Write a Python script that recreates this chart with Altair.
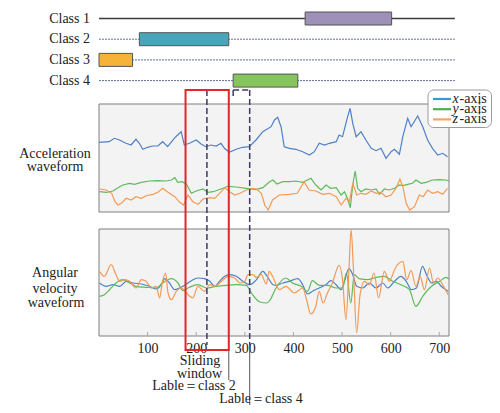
import altair as alt
import pandas as pd

# ---------------- data ----------------
CLASSES = ["Class 1", "Class 2", "Class 3", "Class 4"]
CLASS_START = [424, 83, 0, 276]
CLASS_END = [602, 267, 69, 409]
CLASS_COLORS = ["#9e90b9", "#4aa4ba", "#f5b33a", "#86c55c"]
TIMELINE_END = 732

TICKS = [100, 200, 300, 400, 500, 600, 700]
SERIES = ["x-axis", "y-axis", "z-axis"]
LINE_COLORS = ["#4f80c6", "#5dbb5a", "#f29a55"]
LEGEND_COLORS = ["#3a98d2", "#4cae50", "#f4a361"]

WINDOW = [178, 267]          # sliding window (red box)
DASH_LINE = 222              # dashed line inside the window
DASH_BOX = [276, 310]        # dashed marker of class 4 label

# acceleration waveform (time, value in panel units)
ACC_X = [(0, 69.7), (21, 70.3), (31.5, 73.7), (42, 72), (55.5, 68.7), (66, 67), (76, 72.7), (83, 68.7),
         (90, 62.7), (100, 64.7), (110, 66), (121, 66), (131, 70.3), (141, 65.3), (158, 75.3), (169, 80.3),
         (175.5, 67), (186, 68.7), (200, 72), (210, 68), (220, 65.3), (230, 67), (241, 66), (251, 68.7),
         (258, 63.7), (268, 59.7), (282, 62.7), (295.5, 64.7), (309, 65.3), (323, 72), (337, 80.3), (354, 85.3),
         (361, 92), (367.5, 94.7), (374.5, 85.3), (381, 65.3), (392, 63.7), (405, 62.7), (419, 60.3), (433, 57),
         (443, 60.3), (453, 68.7), (464, 67), (474, 68.7), (488, 70.3), (494, 77), (501, 75.3), (511.5, 95.3),
         (516.5, 103.7), (522, 88.7), (529, 75.3), (539, 80.3), (549, 72), (560, 63.7), (570, 61.3), (580, 63.7),
         (590.5, 53.7), (601, 60.3), (607.6, 62.7), (618, 57.7), (625, 75.3), (635, 93.7), (642, 85.3),
         (655.6, 96), (666, 85.3), (676, 72), (686, 63.7), (697, 57), (707, 58.7), (717, 55.3)]
ACC_Y = [(1, 20.3), (15, 19.7), (29, 21), (39, 24.3), (49, 27), (63, 28.7), (73, 27.7), (87, 29.7), (104, 31),
         (121, 31.3), (138, 31), (149, 32), (156, 34.3), (162, 29.7), (171, 30.3), (180, 27.7), (190, 18.7),
         (200, 21), (214, 23), (224, 19.7), (235, 20.3), (245, 22), (255, 23.7), (265, 25.7), (282, 25),
         (303, 23.7), (323, 22.3), (337, 24.3), (351, 30.3), (358, 32), (366, 28), (378, 30.3), (392, 30.3),
         (405, 31), (419, 29.7), (429, 32), (436, 33.7), (446, 27), (457, 22), (467, 27), (477, 23.7),
         (488, 24.3), (498, 17), (505, 20.3), (511, 13.7), (517, 4.3), (522, 27), (527, 41), (532, 23.7),
         (539, 20.3), (549, 23), (560, 22), (570, 23), (577, 17.7), (587, 23), (597, 22), (608, 23.7), (618, 27),
         (625, 26.3), (635, 27.7), (645, 28.7), (652, 32), (663, 28.7), (673, 29.7), (686, 32), (700, 32.3),
         (714, 32), (720, 31)]
ACC_Z = [(1, 23), (15, 22), (26, 18.7), (33, 10.3), (39, 7), (46, 8.7), (56, 13.7), (66, 12), (76, 15.3),
         (87, 13.7), (97, 16.3), (111, 17.7), (121, 19.7), (131, 23.7), (142, 19.7), (156, 15.3), (166, 9.7),
         (174, 7), (183, 17), (193, 10.3), (204, 7.7), (214, 13), (228, 14.3), (238, 13.7), (248, 18.7),
         (259, 24.3), (269, 20.3), (279, 17), (290, 18.7), (303, 22), (314, 23.7), (324, 23), (334, 18.7),
         (341, 7), (348, 2), (357, 12), (371, 17), (392, 17.7), (408, 18.7), (422, 30.3), (432, 22), (446, 21),
         (460, 17.7), (474, 18.7), (488, 15.3), (498, 7), (508, 13.7), (515, 10.3), (522, 28.7), (530, 17),
         (539, 18.7), (549, 17.7), (560, 21), (570, 18.7), (580, 19.7), (590, 15.3), (601, 17), (611, 23.7),
         (619, 33), (625, 25.3), (632, 8.7), (639, 2), (649, 5.3), (659, 17), (667, 15.3), (676, 22),
         (686, 18.7), (697, 20.3), (707, 17.7), (717, 23.7)]

# angular velocity waveform (time, value in panel units)
GYR_X = [(1, 53), (15, 49.7), (29, 51.3), (42.5, 49.7), (56, 54.7), (70, 53), (87, 52), (104, 49.7), (118, 47),
         (128, 51.3), (135, 57.3), (145, 53), (155.6, 46.3), (166, 48), (176, 50.7), (190, 55.3), (203.5, 58),
         (217, 57.3), (228, 54.7), (238, 49.7), (248, 54.7), (258.6, 59.7), (269, 61.3), (282.5, 59.7),
         (296, 54.7), (310, 51.3), (324, 56.3), (337, 64.7), (348, 58), (358, 51.3), (364, 50.7), (378, 53),
         (391.6, 54.7), (408.8, 57.3), (419, 51.3), (429, 42), (439, 44.7), (453, 48), (467, 51.3), (477, 55.3),
         (487.7, 51.3), (498, 46.3), (505, 54.7), (514, 67.3), (522, 61.3), (530, 49.7), (542.6, 48), (556, 53),
         (570, 48), (583.7, 53), (594, 48), (608, 54.7), (621, 59.7), (632, 54.7), (642.6, 46.3), (653, 48),
         (665.6, 69.7), (673.7, 61.3), (684, 53), (694, 54.7), (704, 49.7), (718, 44.7)]
GYR_Y = [(1, 39.7), (11, 41.3), (21.6, 46.3), (35, 53), (49, 56.3), (63, 53), (76, 49.7), (97, 48.7), (118, 48),
         (131, 53), (149, 57.3), (162.5, 53), (172.6, 45.3), (186, 48.7), (203.5, 51.3), (221, 48), (241, 49.7),
         (262, 50.7), (282.5, 51.3), (303, 50.7), (313.6, 43), (331, 34), (345, 33), (352, 36), (363, 47),
         (384.6, 58), (398, 53), (415.6, 49.7), (429, 44.7), (439, 55.3), (453, 50.7), (470, 50.7), (487.7, 48),
         (501, 48), (509, 63), (518, 33), (525, 61.3), (535, 57.3), (552, 56.3), (570, 58.7), (587, 59.7),
         (604, 54.7), (621, 51.3), (638.6, 46.3), (652, 29.7), (666, 39.7), (684, 49.7), (701, 54.7),
         (714, 58.7), (720, 57)]
GYR_Z = [(1, 64.7), (11, 59.7), (25, 71.3), (35, 61.3), (42.5, 54.7), (53, 56.3), (63, 54.7), (76, 48),
         (87, 56.3), (97, 54.7), (107.6, 48), (118, 49.7), (124.6, 38), (130, 53), (137, 63), (142, 43),
         (149, 36.3), (159, 44.7), (169.6, 48), (183, 41.3), (193, 38), (203.5, 49.7), (217, 44.7), (228, 51.3),
         (238, 49.7), (252, 54.7), (265.4, 59.7), (279, 58), (289.6, 53), (300, 54.7), (306.6, 61.3),
         (317, 61.3), (324, 58.7), (334, 61.3), (344, 52), (350, 64.7), (357, 59.7), (371, 46.3), (384.6, 49.7),
         (401.8, 43), (419, 48), (427, 36.3), (435.6, 22), (446, 29.7), (453, 44.7), (460.8, 33), (470, 43),
         (480, 53), (494, 70.7), (501, 56.3), (508, 16.3), (514, 64.7), (518.6, 106.3), (523, 71.3), (530, 3),
         (537, 41.3), (546, 54.7), (556, 51.3), (566, 63), (575, 38), (587, 64.7), (597, 54.7), (608, 66.3),
         (614, 71.3), (625, 74.7), (633, 56.3), (642, 65.3), (652, 49.7), (660.6, 59.7), (669.5, 46.3),
         (680, 68), (688, 53), (697, 58), (707, 51.3), (718, 41.3)]

# ---------------- layout ----------------
FONT = "Liberation Serif"
PLOT_W, PLOT_H = 350, 232
X_DOMAIN = [0, 720]
ACC_BASE, ACC_TOP = 124, 232
GYR_BASE, GYR_TOP = 0, 107
ROW_TOP, ROW_STEP, BAR_HALF = 317.5, 20.7, 6.5
FRAME_TOP, FRAME_BOTTOM = 246, -14

xs = alt.Scale(domain=X_DOMAIN, nice=False, zero=False)
ys = alt.Scale(domain=[0, PLOT_H], nice=False, zero=False)

# panels + axis
panels = pd.DataFrame({"x0": [X_DOMAIN[0]] * 2, "x1": [X_DOMAIN[1]] * 2,
                       "y0": [ACC_BASE, GYR_BASE], "y1": [ACC_TOP, GYR_TOP]})
panel_layer = alt.Chart(panels).mark_rect(fill="#f3f3f3", stroke="#7f7f7f", strokeWidth=1).encode(
    x=alt.X("x0:Q", scale=xs, axis=alt.Axis(values=TICKS, format="d", ticks=False, domain=False, grid=False,
                                            labelFont=FONT, labelFontSize=14, labelColor="#222",
                                            labelPadding=5, title=None)),
    x2="x1:Q",
    y=alt.Y("y0:Q", scale=ys, axis=None),
    y2="y1:Q",
)

ticks_df = pd.DataFrame({"t": TICKS, "y0": GYR_BASE, "y1": GYR_BASE + 4})
tick_layer = alt.Chart(ticks_df).mark_rule(color="#a8a8a8", strokeWidth=1).encode(
    x=alt.X("t:Q", scale=xs), y=alt.Y("y0:Q", scale=ys), y2="y1:Q")

# waveforms
def series_df(panel, base, series_list):
    rows = []
    for name, pts in zip(SERIES, series_list):
        for t, v in pts:
            rows.append({"panel": panel, "series": name, "t": t, "y": v + base})
    return pd.DataFrame(rows)

acc_df = series_df("acc", ACC_BASE, [ACC_X, ACC_Y, ACC_Z])
gyr_df = series_df("gyr", GYR_BASE, [GYR_X, GYR_Y, GYR_Z])
color_enc = alt.Color("series:N", scale=alt.Scale(domain=SERIES, range=LINE_COLORS), legend=None)

acc_layer = alt.Chart(acc_df).mark_line(strokeWidth=1.2).encode(
    x=alt.X("t:Q", scale=xs), y=alt.Y("y:Q", scale=ys), color=color_enc, detail="panel:N")
gyr_layer = alt.Chart(gyr_df).mark_line(strokeWidth=1.2, interpolate="monotone").encode(
    x=alt.X("t:Q", scale=xs), y=alt.Y("y:Q", scale=ys), color=color_enc, detail="panel:N")

# class timeline
tl = pd.DataFrame({"cls": CLASSES, "start": CLASS_START, "end": CLASS_END,
                   "x0": 0, "x1": TIMELINE_END})
tl["row"] = [ROW_TOP - i * ROW_STEP for i in range(len(CLASSES))]
tl["lo"] = tl["row"] - BAR_HALF
tl["hi"] = tl["row"] + BAR_HALF

tl_solid = alt.Chart(tl[tl.cls == CLASSES[0]]).mark_rule(color="#3c3c3c", strokeWidth=1.3).encode(
    x=alt.X("x0:Q", scale=xs), x2="x1:Q", y=alt.Y("row:Q", scale=ys))
tl_dot = alt.Chart(tl[tl.cls != CLASSES[0]]).mark_rule(color="#5f6f93", strokeWidth=1, strokeDash=[2, 1]).encode(
    x=alt.X("x0:Q", scale=xs), x2="x1:Q", y=alt.Y("row:Q", scale=ys))
tl_bars = alt.Chart(tl).mark_rect(stroke="#555555", strokeWidth=1).encode(
    x=alt.X("start:Q", scale=xs), x2="end:Q", y=alt.Y("lo:Q", scale=ys), y2="hi:Q",
    fill=alt.Fill("cls:N", scale=alt.Scale(domain=CLASSES, range=CLASS_COLORS), legend=None))
tl_labels = alt.Chart(tl).mark_text(align="right", baseline="middle", font=FONT, fontSize=14, color="#222").encode(
    x=alt.value(-9), y=alt.Y("row:Q", scale=ys), text="cls:N")

# annotations
frame = pd.DataFrame({"x0": [WINDOW[0]], "x1": [WINDOW[1]], "y0": [FRAME_BOTTOM], "y1": [FRAME_TOP]})
red_layer = alt.Chart(frame).mark_rect(fill="white", fillOpacity=0, stroke="#e5252a", strokeWidth=2).encode(
    x=alt.X("x0:Q", scale=xs), x2="x1:Q", y=alt.Y("y0:Q", scale=ys), y2="y1:Q")

dash_df = pd.DataFrame({
    "x0": [DASH_LINE, DASH_BOX[1], DASH_BOX[0], DASH_BOX[0]],
    "x1": [DASH_LINE, DASH_BOX[1], DASH_BOX[0], DASH_BOX[1]],
    "y0": [FRAME_TOP, FRAME_TOP, FRAME_TOP, FRAME_TOP],
    "y1": [-9, -9, FRAME_TOP - 7, FRAME_TOP],
})
dash_layer = alt.Chart(dash_df).mark_rule(color="#3d3a66", strokeWidth=1.5, strokeDash=[6, 3]).encode(
    x=alt.X("x0:Q", scale=xs), x2="x1:Q", y=alt.Y("y0:Q", scale=ys), y2="y1:Q")

conn_df = pd.DataFrame({"x": [WINDOW[1], DASH_BOX[1]], "y0": [FRAME_BOTTOM, -9], "y1": [-44, -69]})
conn_layer = alt.Chart(conn_df).mark_rule(color="#555555", strokeWidth=1).encode(
    x=alt.X("x:Q", scale=xs), y=alt.Y("y0:Q", scale=ys), y2="y1:Q")


def label(text, px, py, align="center", style="normal", size=14):
    return alt.Chart(pd.DataFrame({"t": [text]})).mark_text(
        align=align, baseline="middle", font=FONT, fontSize=size, fontStyle=style, color="#222"
    ).encode(x=alt.value(px), y=alt.value(py), text="t:N")


texts = [
    label("Acceleration", -44, 49.5), label("waveform", -44, 62.5),
    label("Angular", -44, 169), label("velocity", -44, 184.5), label("waveform", -43, 199),
    label("Sliding", 101, 257), label("window", 100.5, 269.5),
    label("Lable\uff1dclass 2", 95, 282), label("Lable\uff1dclass 4", 162, 294.5),
]

# custom legend
leg_box = alt.Chart(pd.DataFrame({"a": [0]})).mark_rect(
    fill="white", stroke="#9a9a9a", strokeWidth=1, cornerRadius=6).encode(
    x=alt.value(329), x2=alt.value(392.5), y=alt.value(-14), y2=alt.value(23.5))
legend_layers = [leg_box]
for i, (name, col) in enumerate(zip(SERIES, LEGEND_COLORS)):
    yy = -5 + i * 10.2
    legend_layers.append(alt.Chart(pd.DataFrame({"s": [name]})).mark_rule(color=col, strokeWidth=2.2).encode(
        x=alt.value(334), x2=alt.value(352), y=alt.value(yy)))
    legend_layers.append(label(name[0], 353.5, yy, align="left", style="italic", size=14))
    legend_layers.append(label(name[1:], 360.5, yy, align="left", size=14))

chart = alt.layer(
    panel_layer, tick_layer, acc_layer, gyr_layer,
    tl_solid, tl_dot, tl_bars, tl_labels,
    dash_layer, red_layer, conn_layer,
    *texts, *legend_layers,
).properties(
    width=PLOT_W, height=PLOT_H,
    padding={"left": 91, "top": 96, "right": 43, "bottom": 69},
    autosize=alt.AutoSizeParams(type="none"),
    background="white",
).configure_view(stroke=None)

chart.save("out.html", embed_options={"renderer": "svg", "actions": False})
